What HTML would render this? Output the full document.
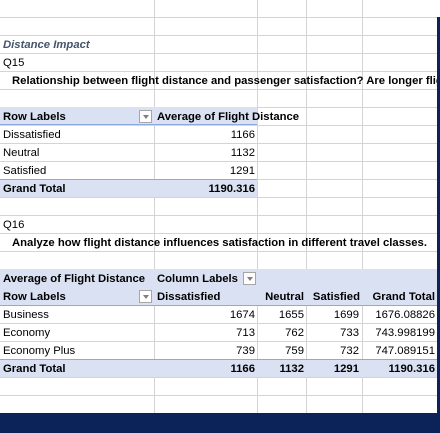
<!DOCTYPE html>
<html><head><meta charset="utf-8"><style>
body{margin:0;width:440px;height:433px;overflow:hidden;background:#fff;font-family:"Liberation Sans",sans-serif;font-size:11.3px;color:#000;position:relative}
.a{position:absolute;white-space:nowrap;line-height:18px;height:18px;padding-top:1px;box-sizing:border-box}
.h{position:absolute;left:0;width:437px;height:1px;background:#d4d4d4}
.v{position:absolute;top:0;width:1px;height:413px;background:#d4d4d4}
.band{position:absolute;background:#d9e1f2}
.b{font-weight:bold}
.r{text-align:right}
.dd{position:absolute;width:13px;height:13px;border:1px solid #a6a6a6;background:#fff;box-sizing:border-box}
.dd:after{content:"";position:absolute;left:3px;top:4px;border-left:3px solid transparent;border-right:3px solid transparent;border-top:4px solid #7f7f7f}
.bl{position:absolute;height:1px;background:#8ea9db}
</style></head><body>
<div id="grid"></div>
<div class="band" style="left:0;top:107px;width:257px;height:18px"></div>
<div class="band" style="left:0;top:179px;width:257px;height:18px"></div>
<div class="bl" style="left:0;top:124px;width:257px"></div>
<div class="bl" style="left:0;top:179px;width:257px"></div>
<div class="band" style="left:0;top:269px;width:437px;height:36px"></div>
<div class="band" style="left:0;top:359px;width:437px;height:18px"></div>
<div class="bl" style="left:0;top:305px;width:437px"></div>
<div class="bl" style="left:0;top:359px;width:437px"></div>

<div class="a b" style="left:3px;top:35px;font-style:italic;color:#44546a">Distance Impact</div>
<div class="a" style="left:3px;top:53px">Q15</div>
<div class="a b" style="left:12px;top:71px">Relationship between flight distance and passenger satisfaction? Are longer flights</div>

<div class="a b" style="left:3px;top:107px">Row Labels</div>
<div class="dd" style="left:139px;top:110px"></div>
<div class="a b" style="left:157px;top:107px">Average of Flight Distance</div>
<div class="a" style="left:3px;top:125px">Dissatisfied</div><div class="a r" style="left:157px;width:98px;top:125px">1166</div>
<div class="a" style="left:3px;top:143px">Neutral</div><div class="a r" style="left:157px;width:98px;top:143px">1132</div>
<div class="a" style="left:3px;top:161px">Satisfied</div><div class="a r" style="left:157px;width:98px;top:161px">1291</div>
<div class="a b" style="left:3px;top:179px">Grand Total</div><div class="a r b" style="left:157px;width:98px;top:179px">1190.316</div>

<div class="a" style="left:3px;top:215px">Q16</div>
<div class="a b" style="left:12px;top:233px">Analyze how flight distance influences satisfaction in different travel classes.</div>

<div class="a b" style="left:3px;top:269px">Average of Flight Distance</div>
<div class="a b" style="left:157px;top:269px">Column Labels</div>
<div class="dd" style="left:243px;top:272px"></div>
<div class="a b" style="left:3px;top:287px">Row Labels</div>
<div class="dd" style="left:139px;top:290px"></div>
<div class="a b" style="left:157px;top:287px">Dissatisfied</div>
<div class="a b r" style="left:258px;width:46px;top:287px">Neutral</div>
<div class="a b r" style="left:306px;width:54px;top:287px">Satisfied</div>
<div class="a b r" style="left:362px;width:73px;top:287px">Grand Total</div>
<div id="rows"></div>

<div style="position:absolute;left:437px;top:17px;width:3px;height:416px;background:#0b2359"></div>
<div style="position:absolute;left:0;top:413px;width:440px;height:20px;background:#0b2359"></div>
<script>
var g=document.getElementById('grid');
for(var k=0;k<23;k++){var d=document.createElement('div');d.className='h';d.style.top=(17+18*k)+'px';g.appendChild(d);}
[154,257,306,362].forEach(function(x){var d=document.createElement('div');d.className='v';d.style.left=x+'px';g.appendChild(d);});
var rowNames=['Business','Economy','Economy Plus','Grand Total'];
var dis=['1674','713','739','1166'],neu=['1655','762','759','1132'],sat=['1699','733','732','1291'],tot=['1676.08826','743.998199','747.089151','1190.316'];
var R=document.getElementById('rows');
function cell(t,l,w,top,bold,right){var d=document.createElement('div');d.className='a'+(bold?' b':'')+(right?' r':'');d.style.left=l+'px';if(w)d.style.width=w+'px';d.style.top=top+'px';d.textContent=t;R.appendChild(d);}
for(var i=0;i<4;i++){var t=305+18*i,b=i==3;
cell(rowNames[i],3,0,t,b,false);cell(dis[i],157,98,t,b,true);cell(neu[i],258,46,t,b,true);cell(sat[i],306,53,t,b,true);cell(tot[i],362,73,t,b,true);}
</script>
</body></html>
